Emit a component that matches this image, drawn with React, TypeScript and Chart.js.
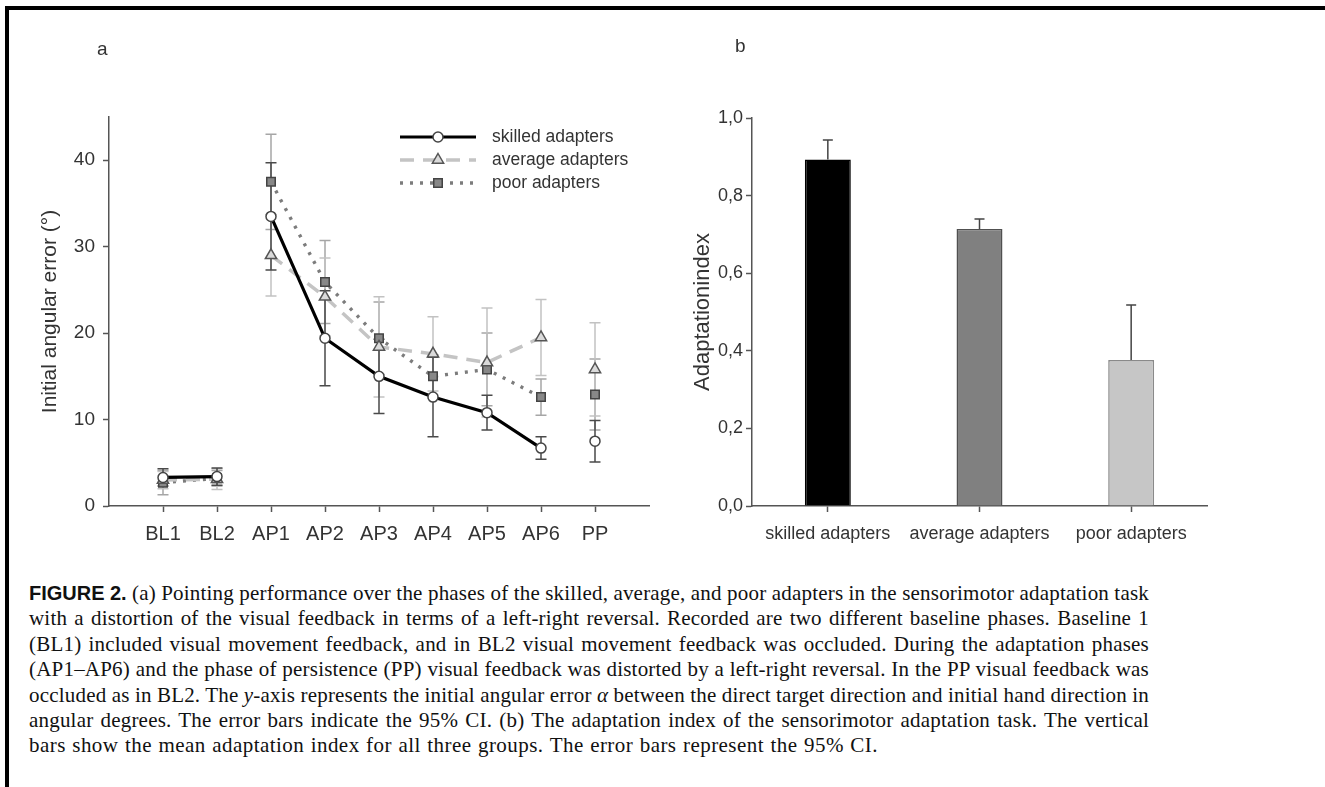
import React, { useEffect, useRef } from 'react';
import { Chart, registerables } from 'chart.js';

Chart.register(...registerables);

// ---------- data (panel a) ----------
const phases = ['BL1', 'BL2', 'AP1', 'AP2', 'AP3', 'AP4', 'AP5', 'AP6', 'PP'];
const skilled = [3.3, 3.4, 33.5, 19.4, 15.0, 12.6, 10.8, 6.7, 7.5];
const skilledCI = [1.0, 1.0, 6.2, 5.5, 4.3, 4.6, 2.0, 1.3, 2.4];
const average = [3.0, 3.1, 29.0, 24.2, 18.4, 17.6, 16.6, 19.5, 15.8];
const averageCI = [1.0, 1.2, 4.7, 4.5, 5.8, 4.3, 6.3, 4.4, 5.4];
const poor = [2.7, 3.2, 37.5, 25.9, 19.4, 15.0, 15.8, 12.6, 12.9];
const poorCI = [1.4, 0.9, 5.5, 4.8, 4.2, 2.5, 4.2, 2.1, 4.1];
const yTicksA = [0, 10, 20, 30, 40];
const seriesNames = ['skilled adapters', 'average adapters', 'poor adapters'];

// ---------- data (panel b) ----------
const groups = ['skilled adapters', 'average adapters', 'poor adapters'];
const adaptIndex = [0.893, 0.714, 0.376];
const adaptCI = [0.05, 0.026, 0.142];
const yTicksB = [0, 0.2, 0.4, 0.6, 0.8, 1.0];

const SANS = '"Liberation Sans", Arial, sans-serif';
const SERIF = '"Liberation Serif", "Times New Roman", serif';
const TXT = '#333333';
const AXIS = '#555555';

// groups of connected phases (line breaks between them)
const segments = [[0, 1], [2, 3, 4, 5, 6, 7], [8]];
function toPoints(vals: number[]) {
  const pts: { x: number; y: number | null }[] = [];
  segments.forEach((seg, si) => {
    if (si > 0) pts.push({ x: seg[0] + 0.5, y: null });
    seg.forEach((i) => pts.push({ x: i + 1, y: vals[i] }));
  });
  return pts;
}

function drawMarker(ctx: CanvasRenderingContext2D, kind: string, x: number, y: number, r: number, fill: string, stroke: string) {
  ctx.save();
  ctx.fillStyle = fill;
  ctx.strokeStyle = stroke;
  ctx.lineWidth = 1.5;
  ctx.setLineDash([]);
  ctx.beginPath();
  if (kind === 'circle') ctx.arc(x, y, r, 0, Math.PI * 2);
  else if (kind === 'triangle') {
    ctx.moveTo(x, y - r);
    ctx.lineTo(x + r * 0.866, y + r * 0.5);
    ctx.lineTo(x - r * 0.866, y + r * 0.5);
    ctx.closePath();
  } else {
    const s = r * Math.SQRT1_2;
    ctx.rect(x - s, y - s, 2 * s, 2 * s);
  }
  ctx.fill();
  ctx.stroke();
  ctx.restore();
}

function LeftChart() {
  const ref = useRef<HTMLCanvasElement>(null);
  useEffect(() => {
    if (!ref.current) return;
    const styles = [
      { vals: skilled, ci: skilledCI, line: '#000000', width: 3.2, dash: [] as number[], pt: 'circle', r: 5, fill: '#ffffff', ptStroke: '#444444', err: '#4a4a4a' },
      { vals: average, ci: averageCI, line: '#c4c4c4', width: 3.5, dash: [14, 9], pt: 'triangle', r: 6.5, fill: '#dadada', ptStroke: '#555555', err: '#c2c2c2' },
      { vals: poor, ci: poorCI, line: '#7c7c7c', width: 3.4, dash: [3, 7], pt: 'rect', r: 6, fill: '#888888', ptStroke: '#444444', err: '#a6a6a6' },
    ];

    const errPlugin = {
      id: 'errA',
      beforeDatasetsDraw(chart: any) {
        const { ctx, scales } = chart;
        const x = scales.x, y = scales.y;
        [...styles].reverse().forEach((s) => {
          ctx.save();
          ctx.strokeStyle = s.err;
          ctx.lineWidth = 1.5;
          s.vals.forEach((v, i) => {
            const px = x.getPixelForValue(i + 1);
            const top = y.getPixelForValue(v + s.ci[i]);
            const bot = y.getPixelForValue(v - s.ci[i]);
            ctx.beginPath();
            ctx.moveTo(px, top); ctx.lineTo(px, bot);
            ctx.moveTo(px - 5.5, top); ctx.lineTo(px + 5.5, top);
            ctx.moveTo(px - 5.5, bot); ctx.lineTo(px + 5.5, bot);
            ctx.stroke();
          });
          ctx.restore();
        });
      },
    };

    const legendPlugin = {
      id: 'legendA',
      afterDraw(chart: any) {
        const ctx = chart.ctx as CanvasRenderingContext2D;
        const x0 = 400, x1 = 476, tx = 492;
        const rows = [137, 160, 183];
        styles.forEach((s, i) => {
          const yy = rows[i];
          ctx.save();
          ctx.strokeStyle = s.line;
          ctx.lineWidth = s.width;
          ctx.setLineDash(s.dash);
          ctx.beginPath();
          ctx.moveTo(x0, yy); ctx.lineTo(x1, yy);
          ctx.stroke();
          ctx.restore();
          drawMarker(ctx, s.pt, (x0 + x1) / 2, yy, s.r, s.fill, s.ptStroke);
          ctx.save();
          ctx.fillStyle = TXT;
          ctx.font = `17.5px ${SANS}`;
          ctx.textBaseline = 'middle';
          ctx.textAlign = 'left';
          ctx.fillText(seriesNames[i], tx, yy);
          ctx.restore();
        });
      },
    };

    const chart = new Chart(ref.current, {
      type: 'line',
      data: {
        datasets: styles.map((s, i) => ({
          label: seriesNames[i],
          data: toPoints(s.vals),
          borderColor: s.line,
          borderWidth: s.width,
          borderDash: s.dash,
          pointStyle: s.pt as any,
          pointRadius: s.r,
          pointBackgroundColor: s.fill,
          pointBorderColor: s.ptStroke,
          pointBorderWidth: 1.5,
          spanGaps: false,
          tension: 0,
          fill: false,
        })),
      },
      options: {
        animation: false,
        responsive: false,
        layout: { padding: { top: 117, right: 11, bottom: 0, left: 0 } },
        plugins: { legend: { display: false }, tooltip: { enabled: false } },
        scales: {
          x: {
            type: 'linear',
            min: 0,
            max: 10,
            afterBuildTicks: (axis: any) => { axis.ticks = phases.map((_, i) => ({ value: i + 1 })); },
            afterFit: (axis: any) => { axis.height = 54; },
            ticks: {
              autoSkip: false,
              maxRotation: 0,
              padding: 10,
              color: TXT,
              font: { family: SANS, size: 20 },
              callback: (v: any) => phases[Math.round(v) - 1] ?? '',
            },
            grid: { drawOnChartArea: false, drawTicks: true, tickLength: 6, tickColor: AXIS, tickWidth: 1.5 },
            border: { color: AXIS, width: 1.5 },
          },
          y: {
            type: 'linear',
            min: 0,
            max: 45,
            afterBuildTicks: (axis: any) => { axis.ticks = yTicksA.map((v) => ({ value: v })); },
            afterFit: (axis: any) => { axis.width = 109; },
            ticks: { padding: 8, color: TXT, font: { family: SANS, size: 19 } },
            grid: { drawOnChartArea: false, drawTicks: true, tickLength: 6, tickColor: AXIS, tickWidth: 1.5 },
            border: { color: AXIS, width: 1.5 },
            title: { display: true, text: 'Initial angular error (°)', color: TXT, font: { family: SANS, size: 21 }, padding: { top: 38, bottom: 0 } },
          },
        },
      },
      plugins: [errPlugin, legendPlugin],
    } as any);
    return () => chart.destroy();
  }, []);
  return <canvas ref={ref} width={660} height={560} style={{ position: 'absolute', left: 0, top: 0, display: 'block' }} />;
}

function RightChart() {
  const ref = useRef<HTMLCanvasElement>(null);
  useEffect(() => {
    if (!ref.current) return;
    const fills = ['#000000', '#808080', '#c6c6c6'];
    const borders = ['#000000', '#505050', '#8a8a8a'];
    const errPlugin = {
      id: 'errB',
      afterDatasetsDraw(chart: any) {
        const { ctx, scales } = chart;
        const x = scales.x, y = scales.y;
        ctx.save();
        ctx.strokeStyle = '#444444';
        ctx.lineWidth = 1.5;
        adaptIndex.forEach((v, i) => {
          const px = x.getPixelForValue(i);
          const top = y.getPixelForValue(v + adaptCI[i]);
          const base = y.getPixelForValue(v);
          ctx.beginPath();
          ctx.moveTo(px, base); ctx.lineTo(px, top);
          ctx.moveTo(px - 5, top); ctx.lineTo(px + 5, top);
          ctx.stroke();
        });
        ctx.restore();
      },
    };
    const chart = new Chart(ref.current, {
      type: 'bar',
      data: {
        labels: groups,
        datasets: [{
          data: adaptIndex,
          backgroundColor: fills,
          borderColor: borders,
          borderWidth: 1.5,
          categoryPercentage: 1,
          barPercentage: 0.303,
        }],
      },
      options: {
        animation: false,
        responsive: false,
        layout: { padding: { top: 118, right: 118, bottom: 0, left: 0 } },
        plugins: { legend: { display: false }, tooltip: { enabled: false } },
        scales: {
          x: {
            type: 'category',
            offset: true,
            afterFit: (axis: any) => { axis.height = 54; },
            ticks: { padding: 11, color: TXT, font: { family: SANS, size: 18 }, maxRotation: 0, autoSkip: false },
            grid: { offset: false, drawOnChartArea: false, drawTicks: true, tickLength: 6, tickColor: AXIS, tickWidth: 1.5 },
            border: { color: AXIS, width: 1.5 },
          },
          y: {
            type: 'linear',
            min: 0,
            max: 1,
            afterBuildTicks: (axis: any) => { axis.ticks = yTicksB.map((v) => ({ value: v })); },
            afterFit: (axis: any) => { axis.width = 92; },
            ticks: {
              padding: 3,
              color: TXT,
              font: { family: SANS, size: 18 },
              callback: (v: any) => Number(v).toFixed(1).replace('.', ','),
            },
            grid: { drawOnChartArea: false, drawTicks: true, tickLength: 6, tickColor: AXIS, tickWidth: 1.5 },
            border: { color: AXIS, width: 1.5 },
            title: { display: true, text: 'Adaptationindex', color: TXT, font: { family: SANS, size: 22 }, padding: { top: 30, bottom: 0 } },
          },
        },
      },
      plugins: [errPlugin],
    } as any);
    return () => chart.destroy();
  }, []);
  return <canvas ref={ref} width={665} height={560} style={{ position: 'absolute', left: 660, top: 0, display: 'block' }} />;
}

const captionLines: React.ReactNode[] = [
  <><span style={{ fontFamily: SANS, fontWeight: 'bold', fontSize: 20, letterSpacing: 0 }}>FIGURE 2.</span> (a) Pointing performance over the phases of the skilled, average, and poor adapters in the sensorimotor adaptation task</>,
  'with a distortion of the visual feedback in terms of a left-right reversal. Recorded are two different baseline phases. Baseline 1',
  '(BL1) included visual movement feedback, and in BL2 visual movement feedback was occluded. During the adaptation phases',
  '(AP1–AP6) and the phase of persistence (PP) visual feedback was distorted by a left-right reversal. In the PP visual feedback was',
  <>occluded as in BL2. The <i>y</i>-axis represents the initial angular error <i>α</i> between the direct target direction and initial hand direction in</>,
  'angular degrees. The error bars indicate the 95% CI. (b) The adaptation index of the sensorimotor adaptation task. The vertical',
  'bars show the mean adaptation index for all three groups. The error bars represent the 95% CI.',
];

export default function App() {
  return (
    <div style={{ position: 'absolute', left: 0, top: 0, width: 1325, height: 787, background: '#ffffff', overflow: 'hidden' }}>
      <div style={{ position: 'absolute', left: 5, top: 6, width: 1330, height: 800, borderTop: '4px solid #000', borderLeft: '4px solid #000' }} />
      <LeftChart />
      <RightChart />
      <div style={{ position: 'absolute', left: 97, top: 38, fontFamily: SANS, fontSize: 19, color: TXT }}>a</div>
      <div style={{ position: 'absolute', left: 735, top: 35, fontFamily: SANS, fontSize: 19, color: TXT }}>b</div>
      <div style={{ position: 'absolute', left: 29, top: 581, width: 1120, fontFamily: SERIF, fontSize: 21, lineHeight: '25.4px', color: '#111' }}>
        {captionLines.map((l, i) => {
          const last = i === captionLines.length - 1;
          return (
            <div
              key={i}
              style={{
                textAlign: 'justify',
                textAlignLast: last ? 'left' : 'justify',
                letterSpacing: last ? '0.45px' : '0.2px',
                wordSpacing: last ? '0.8px' : '-1.5px',
                whiteSpace: 'nowrap',
              }}
            >
              {l}
            </div>
          );
        })}
      </div>
    </div>
  );
}
